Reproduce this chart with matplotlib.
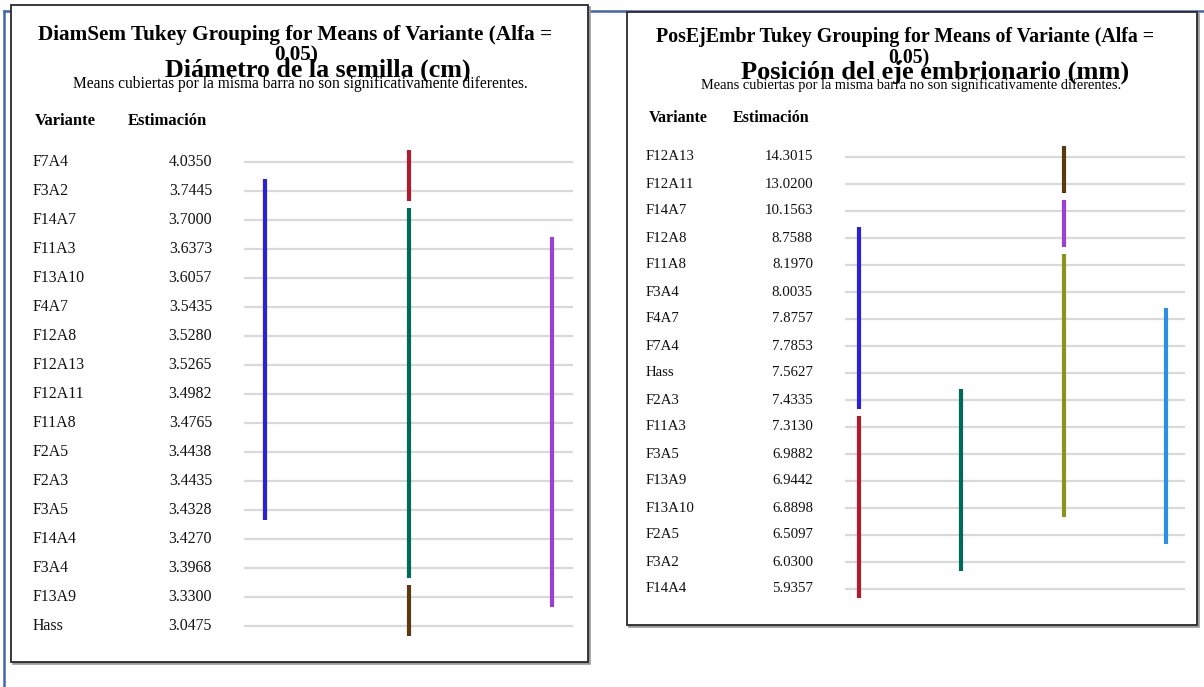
import matplotlib
matplotlib.use("Agg")
import matplotlib.pyplot as plt
import matplotlib.transforms as mtransforms
from matplotlib.patches import Rectangle
from matplotlib.lines import Line2D

plt.rcParams['font.family'] = ['Liberation Serif', 'DejaVu Serif']

# ---------------- data ----------------
left_variants = ["F7A4", "F3A2", "F14A7", "F11A3", "F13A10", "F4A7", "F12A8", "F12A13",
                 "F12A11", "F11A8", "F2A5", "F2A3", "F3A5", "F14A4", "F3A4", "F13A9", "Hass"]
left_estimates = [4.0350, 3.7445, 3.7000, 3.6373, 3.6057, 3.5435, 3.5280, 3.5265,
                  3.4982, 3.4765, 3.4438, 3.4435, 3.4328, 3.4270, 3.3968, 3.3300, 3.0475]
# groups: (column, first variant, last variant, colour)
left_groups = [(0, "F3A2", "F3A5", "#2b22d8"),
               (1, "F7A4", "F3A2", "#b01c2e"),
               (1, "F14A7", "F3A4", "#006b5b"),
               (1, "F13A9", "Hass", "#5c3a10"),
               (2, "F11A3", "F13A9", "#9b3fd6")]

right_variants = ["F12A13", "F12A11", "F14A7", "F12A8", "F11A8", "F3A4", "F4A7", "F7A4",
                  "Hass", "F2A3", "F11A3", "F3A5", "F13A9", "F13A10", "F2A5", "F3A2", "F14A4"]
right_estimates = [14.3015, 13.0200, 10.1563, 8.7588, 8.1970, 8.0035, 7.8757, 7.7853,
                   7.5627, 7.4335, 7.3130, 6.9882, 6.9442, 6.8898, 6.5097, 6.0300, 5.9357]
right_groups = [(0, "F12A8", "F2A3", "#2b22d8"),
                (0, "F11A3", "F14A4", "#b01c2e"),
                (1, "F2A3", "F3A2", "#006b5b"),
                (2, "F12A13", "F12A11", "#5c3a10"),
                (2, "F14A7", "F12A8", "#9b3fd6"),
                (2, "F11A8", "F13A10", "#8a9320"),
                (3, "F4A7", "F2A5", "#2b8fe8")]

left_title = "DiamSem Tukey Grouping for Means of Variante (Alfa ="
right_title = "PosEjEmbr Tukey Grouping for Means of Variante (Alfa ="
title_cont = "0.05)"
left_big = "Diámetro de la semilla (cm)"
right_big = "Posición del eje embrionario (mm)"
note = "Means cubiertas por la misma barra no son significativamente diferentes."
hdr_var = "Variante"
hdr_est = "Estimación"

# ---------------- layout ----------------
W, H = 1204, 687
fig = plt.figure(figsize=(W / 100, H / 100), dpi=100)
PX = mtransforms.Affine2D().scale(1 / W, -1 / H).translate(0, 1) + fig.transFigure

# blue frame lines (behind the boxes)
fig.add_artist(Line2D([4, 4], [11, H], transform=PX, color="#4466aa", lw=1.8, zorder=0))
fig.add_artist(Line2D([4, W], [11, 11], transform=PX, color="#4466aa", lw=1.8, zorder=0))


def panel(box, row0, step, grid_x, col0, col_step, lab_x, est_x, lab_fs, hdr_fs,
          hdr_y, hv_x, he_x, variants, estimates, groups,
          t1, t1c, t1y, t1fs, t2c, t2y, bigtxt, bigc, bigy, bigfs, notec, notey, notefs):
    x0, y0, x1, y1 = box
    n_rows = len(variants)
    # shadow + box
    fig.add_artist(Rectangle((x0 + 1.5, y1 + 1.5), x1 - x0, y0 - y1, transform=PX,
                             facecolor="#9a9a9a", edgecolor="#9a9a9a", lw=1.2, zorder=0.5))
    fig.add_artist(Rectangle((x0, y1), x1 - x0, y0 - y1, transform=PX,
                             facecolor="white", edgecolor="#2a2a2a", lw=1.3, zorder=1))
    # axes region for bars
    gx0, gx1 = grid_x
    top_px = row0 - step
    bot_px = row0 + step * n_rows
    ax = fig.add_axes([gx0 / W, 1 - bot_px / H, (gx1 - gx0) / W, (bot_px - top_px) / H])
    ax.set_zorder(5)
    ax.set_xlim((gx0 - col0) / col_step, (gx1 - col0) / col_step)
    ax.set_ylim(n_rows, -1)
    ax.axis("off")
    rows = list(range(n_rows))
    ax.hlines(rows, *ax.get_xlim(), color="#d9d9d9", lw=1.6, zorder=1)
    for col, a, b, c in groups:
        ia, ib = variants.index(a), variants.index(b)
        ax.vlines(col, ia - 0.42, ib + 0.35, color=c, lw=3.0, zorder=3)
    # labels
    tr = mtransforms.blended_transform_factory(PX, ax.transData)
    for i, (v, e) in enumerate(zip(variants, estimates)):
        ax.text(lab_x, i, v, transform=tr, ha="left", va="center", fontsize=lab_fs,
                color="#111111", clip_on=False)
        ax.text(est_x, i, f"{e:.4f}", transform=tr, ha="right", va="center", fontsize=lab_fs,
                color="#111111", clip_on=False)
    kw = dict(transform=PX, zorder=3)
    fig.text(hv_x, hdr_y, hdr_var, ha="left", va="center", fontsize=hdr_fs,
             fontweight="bold", **kw)
    fig.text(he_x, hdr_y, hdr_est, ha="left", va="center", fontsize=hdr_fs,
             fontweight="bold", **kw)
    fig.text(t1c, t1y, t1, ha="center", va="center", fontsize=t1fs, fontweight="bold", **kw)
    fig.text(t2c, t2y, title_cont, ha="center", va="center", fontsize=t1fs,
             fontweight="bold", **kw)
    fig.text(bigc, bigy, bigtxt, ha="center", va="center", fontsize=bigfs,
             fontweight="bold", **kw)
    fig.text(notec, notey, note, ha="center", va="center", fontsize=notefs, **kw)


panel((11, 5, 588, 662), 162, 29.0, (244, 573), 265, 143.5, 33, 212, 11.4, 12,
      121, 35, 128, left_variants, left_estimates, left_groups,
      left_title, 295, 35, 15.3, 296, 55, left_big, 318, 70, 18.7, 300, 84, 11.2)
panel((627, 12, 1197, 625), 157, 27.0, (845, 1185), 859, 102.3, 646, 813, 10.7, 11.5,
      118, 649, 733, right_variants, right_estimates, right_groups,
      right_title, 905, 37, 14.3, 909, 58, right_big, 935, 72, 19.0, 911, 85, 10.4)

fig.savefig("out.png", dpi=100, facecolor="white")
